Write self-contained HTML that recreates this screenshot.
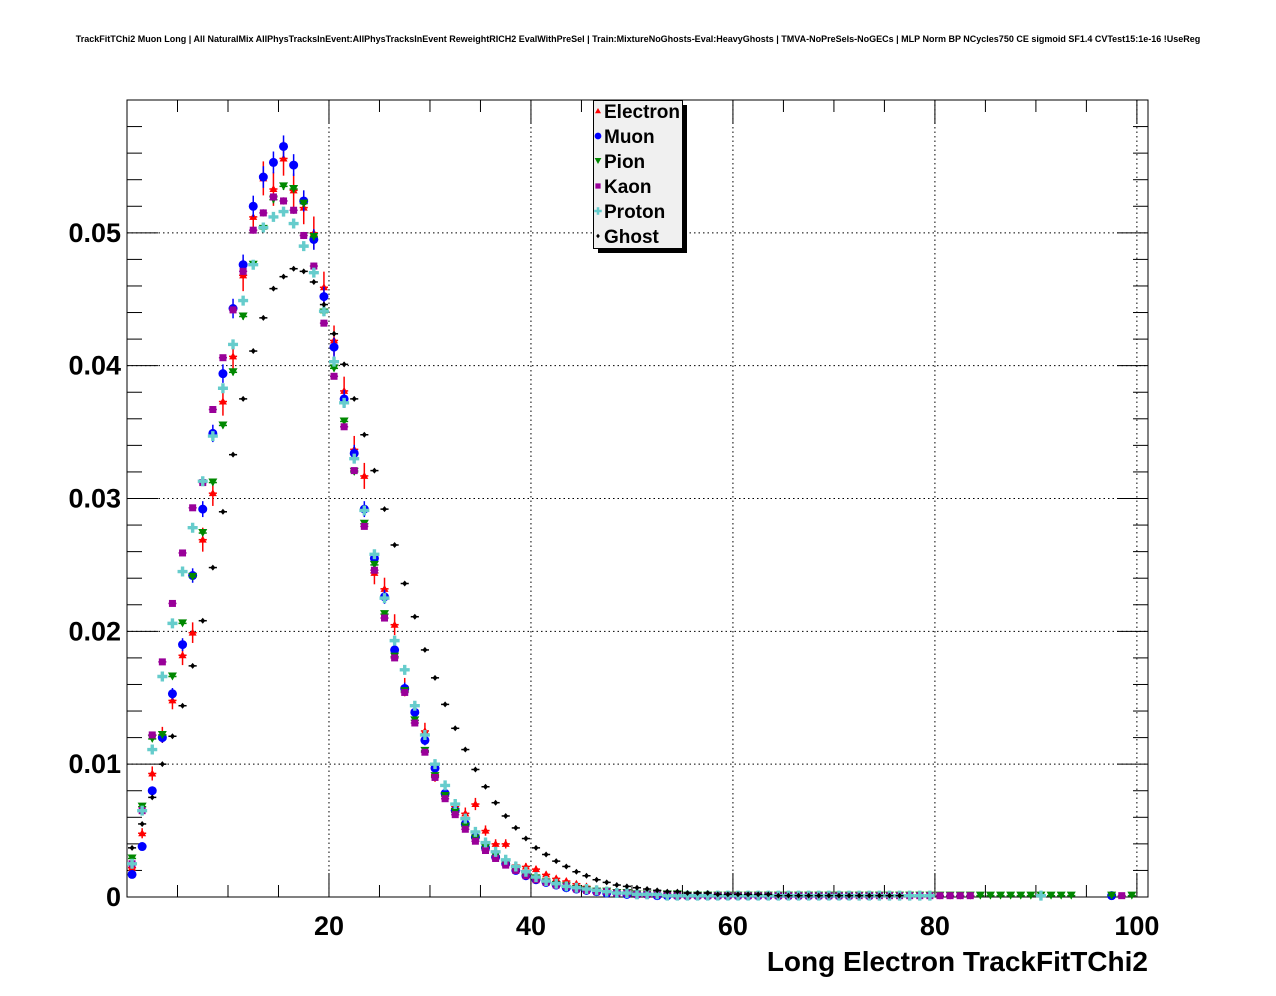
<!DOCTYPE html>
<html><head><meta charset="utf-8">
<style>
body{margin:0;background:#fff;}
svg{display:block;font-family:"Liberation Sans",sans-serif;}
</style></head>
<body>
<svg id="chart" width="1276" height="996" viewBox="0 0 1276 996">
<text x="638" y="42" font-size="9" font-weight="bold" text-anchor="middle">TrackFitTChi2 Muon Long | All NaturalMix AllPhysTracksInEvent:AllPhysTracksInEvent ReweightRICH2 EvalWithPreSel | Train:MixtureNoGhosts-Eval:HeavyGhosts | TMVA-NoPreSels-NoGECs | MLP Norm BP NCycles750 CE sigmoid SF1.4 CVTest15:1e-16 !UseReg</text>
<rect x="127" y="100" width="1021" height="797" fill="#fff" stroke="#000" stroke-width="1"/>
<g id="grid"></g>
<g id="axes"></g>
<g id="marks"></g>
<text x="1148" y="971" font-size="28" font-weight="bold" text-anchor="end">Long Electron TrackFitTChi2</text>
<g>
<rect x="598" y="105" width="89" height="148" fill="#000"/>
<rect x="593.5" y="100.5" width="89" height="148" fill="#f0f0f0" stroke="#000"/>
<g id="legend-items"></g>
</g>
</svg>
<script>
const categories = Array.from({length:100},(_, i)=>i+0.5);
const seriesNames = ["Electron","Muon","Pion","Kaon","Proton","Ghost"];
const electron = [0.0022,0.0048,0.0093,0.0122,0.0148,0.0182,0.0199,0.0269,0.0304,0.0373,0.0407,0.0468,0.0512,0.0541,0.0533,0.0556,0.0532,0.0519,0.0500,0.0459,0.0419,0.0381,0.0337,0.0317,0.0244,0.0232,0.0205,0.0158,0.0140,0.0125,0.0092,0.0078,0.0068,0.0063,0.0070,0.0050,0.0040,0.0040,0.0024,0.0023,0.0021,0.0017,0.0014,0.0012,0.0010,0.0008,0.0006,0.0005,0.0004,0.0003,0.0003,0.0002,0.0002,0.0002,0.0001,0.0001,0.0001,0.0001,0.0001,0.0001,0,0.0001,0,0,0.0001,0,0,0,0,0,0,0,0,0,0,0,0,0,0,0,0,0,0,0,0,0,0,0,0,0,0,0,0,0,0,0,0,0,0,0];
const muon = [0.0017,0.0038,0.0080,0.0120,0.0153,0.0190,0.0242,0.0292,0.0349,0.0394,0.0443,0.0476,0.0520,0.0542,0.0553,0.0565,0.0551,0.0524,0.0495,0.0452,0.0414,0.0375,0.0334,0.0292,0.0255,0.0226,0.0186,0.0157,0.0139,0.0118,0.0097,0.0078,0.0065,0.0055,0.0045,0.0037,0.0030,0.0025,0.0020,0.0016,0.0013,0.0011,0.0009,0.0007,0.0006,0.0005,0.0004,0.0003,0.0003,0.0002,0.0002,0.0002,0.0001,0.0001,0.0001,0.0001,0.0001,0.0001,0.0001,0.0001,0.0001,0.0001,0.0001,0.0001,0.0001,0.0001,0.0001,0.0001,0.0001,0.0001,0.0001,0.0001,0,0.0001,0,0,0,0,0,0,0,0,0,0,0,0,0,0,0,0,0,0,0,0,0,0,0,0.0001,0,0];
const pion = [0.0029,0.0068,0.0119,0.0122,0.0166,0.0206,0.0241,0.0274,0.0312,0.0355,0.0395,0.0437,0.0476,0.0503,0.0525,0.0535,0.0533,0.0522,0.0497,0.0440,0.0398,0.0358,0.0320,0.0281,0.0250,0.0213,0.0181,0.0155,0.0133,0.0110,0.0091,0.0076,0.0064,0.0053,0.0044,0.0037,0.0031,0.0026,0.0021,0.0017,0.0014,0.0011,0.0009,0.0008,0.0006,0.0005,0.0004,0.0004,0.0003,0.0003,0.0002,0.0002,0.0002,0.0002,0.0002,0.0001,0.0001,0.0001,0.0001,0.0001,0.0001,0.0001,0.0001,0.0001,0.0001,0.0001,0.0001,0.0001,0.0001,0.0001,0.0001,0.0001,0.0001,0.0001,0.0001,0.0001,0.0001,0.0001,0.0001,0.0001,0.0001,0.0001,0.0001,0.0001,0.0001,0.0001,0.0001,0.0001,0.0001,0.0001,0.0001,0.0001,0.0001,0.0001,0,0,0,0.0001,0,0.0001];
const kaon = [0.0025,0.0065,0.0122,0.0177,0.0221,0.0259,0.0293,0.0312,0.0367,0.0406,0.0442,0.0471,0.0502,0.0515,0.0527,0.0524,0.0517,0.0498,0.0475,0.0432,0.0392,0.0354,0.0321,0.0279,0.0246,0.0210,0.0180,0.0154,0.0131,0.0109,0.0090,0.0074,0.0062,0.0051,0.0042,0.0035,0.0029,0.0024,0.0020,0.0016,0.0013,0.0011,0.0009,0.0008,0.0006,0.0005,0.0004,0.0004,0.0003,0.0003,0.0002,0.0002,0.0002,0.0002,0.0001,0.0001,0.0001,0.0001,0.0001,0.0001,0.0001,0.0001,0.0001,0.0001,0.0001,0.0001,0.0001,0.0001,0.0001,0.0001,0.0001,0.0001,0.0001,0.0001,0.0001,0.0001,0.0001,0.0001,0.0001,0.0001,0.0001,0.0001,0.0001,0.0001,0,0,0,0,0,0,0,0,0,0,0,0,0,0,0.0001,0];
const proton = [0.0025,0.0065,0.0111,0.0166,0.0206,0.0245,0.0278,0.0313,0.0347,0.0383,0.0416,0.0449,0.0476,0.0504,0.0512,0.0516,0.0507,0.0490,0.0470,0.0441,0.0403,0.0372,0.0330,0.0291,0.0258,0.0225,0.0193,0.0171,0.0144,0.0122,0.0100,0.0084,0.0070,0.0059,0.0049,0.0041,0.0034,0.0028,0.0023,0.0019,0.0015,0.0012,0.0010,0.0008,0.0007,0.0006,0.0005,0.0004,0.0003,0.0003,0.0002,0.0002,0.0002,0.0001,0.0001,0.0001,0.0001,0.0001,0.0001,0.0001,0.0001,0.0001,0.0001,0.0001,0.0001,0.0001,0.0001,0.0001,0.0001,0.0001,0.0001,0.0001,0.0001,0.0001,0.0001,0.0001,0.0001,0.0001,0.0001,0.0001,0,0,0,0,0,0,0,0,0,0,0.0001,0,0,0,0,0,0,0,0,0];
const ghost = [0.0037,0.0055,0.0075,0.0100,0.0121,0.0144,0.0174,0.0208,0.0248,0.0290,0.0333,0.0375,0.0411,0.0436,0.0458,0.0467,0.0473,0.0471,0.0463,0.0446,0.0424,0.0401,0.0375,0.0348,0.0321,0.0292,0.0265,0.0236,0.0211,0.0186,0.0165,0.0145,0.0127,0.0111,0.0096,0.0083,0.0071,0.0061,0.0052,0.0044,0.0037,0.0032,0.0027,0.0023,0.0019,0.0016,0.0013,0.0011,0.0009,0.0008,0.0007,0.0006,0.0005,0.0004,0.0004,0.0003,0.0003,0.0003,0.0002,0.0002,0.0002,0.0002,0.0002,0.0002,0.0001,0.0001,0.0001,0.0001,0.0001,0.0001,0.0001,0.0001,0.0001,0.0001,0.0001,0.0001,0.0001,0,0,0,0,0,0,0,0,0,0,0,0,0,0,0,0,0,0,0,0,0,0,0];
const xTicks = [20,40,60,80,100];
const yTicks = [0,0.01,0.02,0.03,0.04,0.05];
const yTickLabels = ["0","0.01","0.02","0.03","0.04","0.05"];

const NS="http://www.w3.org/2000/svg";
const X0=127,X1=1148,Y0=897,Y1=100,XMAX=101.1,YMAX=0.06;
const sx=v=>X0+(v/XMAX)*(X1-X0);
const sy=v=>Y0-(v/YMAX)*(Y0-Y1);
function mk(tag,attrs,parent){const e=document.createElementNS(NS,tag);for(const k in attrs)e.setAttribute(k,attrs[k]);parent.appendChild(e);return e;}
const grid=document.getElementById('grid'),axes=document.getElementById('axes'),marks=document.getElementById('marks');

xTicks.forEach(t=>{if(sx(t)<X1-2){const l=mk('line',{x1:sx(t),x2:sx(t),y1:Y1,y2:Y0,stroke:'#000','stroke-dasharray':'1.5,3','stroke-width':1},grid);

}});
yTicks.forEach(t=>{if(t>0){const l=mk('line',{x1:X0,x2:X1,y1:sy(t),y2:sy(t),stroke:'#000','stroke-dasharray':'1.5,3','stroke-width':1},grid);

}});
for(let v=5;v<XMAX;v+=5){const major=v%20===0;const L=major?24:12;const x=sx(v);
mk('line',{x1:x,x2:x,y1:Y0,y2:Y0-L,stroke:'#000'},axes);mk('line',{x1:x,x2:x,y1:Y1,y2:Y1+L,stroke:'#000'},axes);}
xTicks.forEach(t=>{const tx=mk('text',{x:sx(t),y:935,'font-size':27,'font-weight':'bold','text-anchor':'middle'},axes);tx.textContent=t;

});
for(let k=1;k<30;k++){const v=k*0.002;const major=k%5===0;const L=major?31:15;const y=sy(v);
mk('line',{x1:X0,x2:X0+L,y1:y,y2:y,stroke:'#000'},axes);mk('line',{x1:X1,x2:X1-L,y1:y,y2:y,stroke:'#000'},axes);}
yTicks.forEach((t,i)=>{const tx=mk('text',{x:121,y:sy(t)+9,'font-size':27,'font-weight':'bold','text-anchor':'end'},axes);tx.textContent=yTickLabels[i];

});

const colors={Electron:'#ff0000',Muon:'#0000ff',Pion:'#008800',Kaon:'#990099',Proton:'#66cccc',Ghost:'#000000'};
const errScale={Electron:0.0055,Muon:0.0035,Pion:0.0012,Kaon:0.0012,Proton:0.0012,Ghost:0.0008};
const dataMap={Electron:electron,Muon:muon,Pion:pion,Kaon:kaon,Proton:proton,Ghost:ghost};
function marker(name,x,y,g,scale){const c=colors[name];const s=scale||1;let e;
 if(name==='Electron')e=mk('polygon',{points:`${x},${y-4*s} ${x-4*s},${y+3*s} ${x+4*s},${y+3*s}`,fill:c},g);
 else if(name==='Muon')e=mk('circle',{cx:x,cy:y,r:4.5*s,fill:c},g);
 else if(name==='Pion')e=mk('polygon',{points:`${x-4.5*s},${y-4*s} ${x+4.5*s},${y-4*s} ${x},${y+4*s}`,fill:c},g);
 else if(name==='Kaon')e=mk('rect',{x:x-3.5*s,y:y-3.5*s,width:7*s,height:7*s,fill:c},g);
 else if(name==='Proton')e=mk('path',{d:`M${x-1.7*s},${y-5*s}h${3.4*s}v${3.3*s}h${3.3*s}v${3.4*s}h${-3.3*s}v${3.3*s}h${-3.4*s}v${-3.3*s}h${-3.3*s}v${-3.4*s}h${3.3*s}z`,fill:c},g);
 else e=mk('path',{d:`M${x},${y-3*s}L${x+2.5*s},${y}L${x},${y+3*s}L${x-2.5*s},${y}z`,fill:c},g);
 return e;}
seriesNames.forEach(name=>{const g=mk('g',{},marks);
 
 
 const arr=dataMap[name],c=colors[name];
 categories.forEach((cx,i)=>{const v=arr[i];if(!v)return;const x=sx(cx),y=sy(v);
  const err=errScale[name]*Math.sqrt(v);
  mk('line',{x1:sx(cx-0.5)+1,x2:sx(cx+0.5)-1,y1:y,y2:y,stroke:c,'stroke-width':1.5},g);
  mk('line',{x1:x,x2:x,y1:sy(v+err),y2:sy(v-err),stroke:c,'stroke-width':1.5},g);
  const m=marker(name,x,y,g);
  
  
 });
});
const li=document.getElementById('legend-items');
seriesNames.forEach((name,i)=>{const y=111+i*25;const g=mk('g',{},li);
 
 
 marker(name,598,y,g,0.75);
 const t=mk('text',{x:604,y:y+7,'font-size':19,'font-weight':'bold'},g);t.textContent=name;});
</script>
</body></html>
